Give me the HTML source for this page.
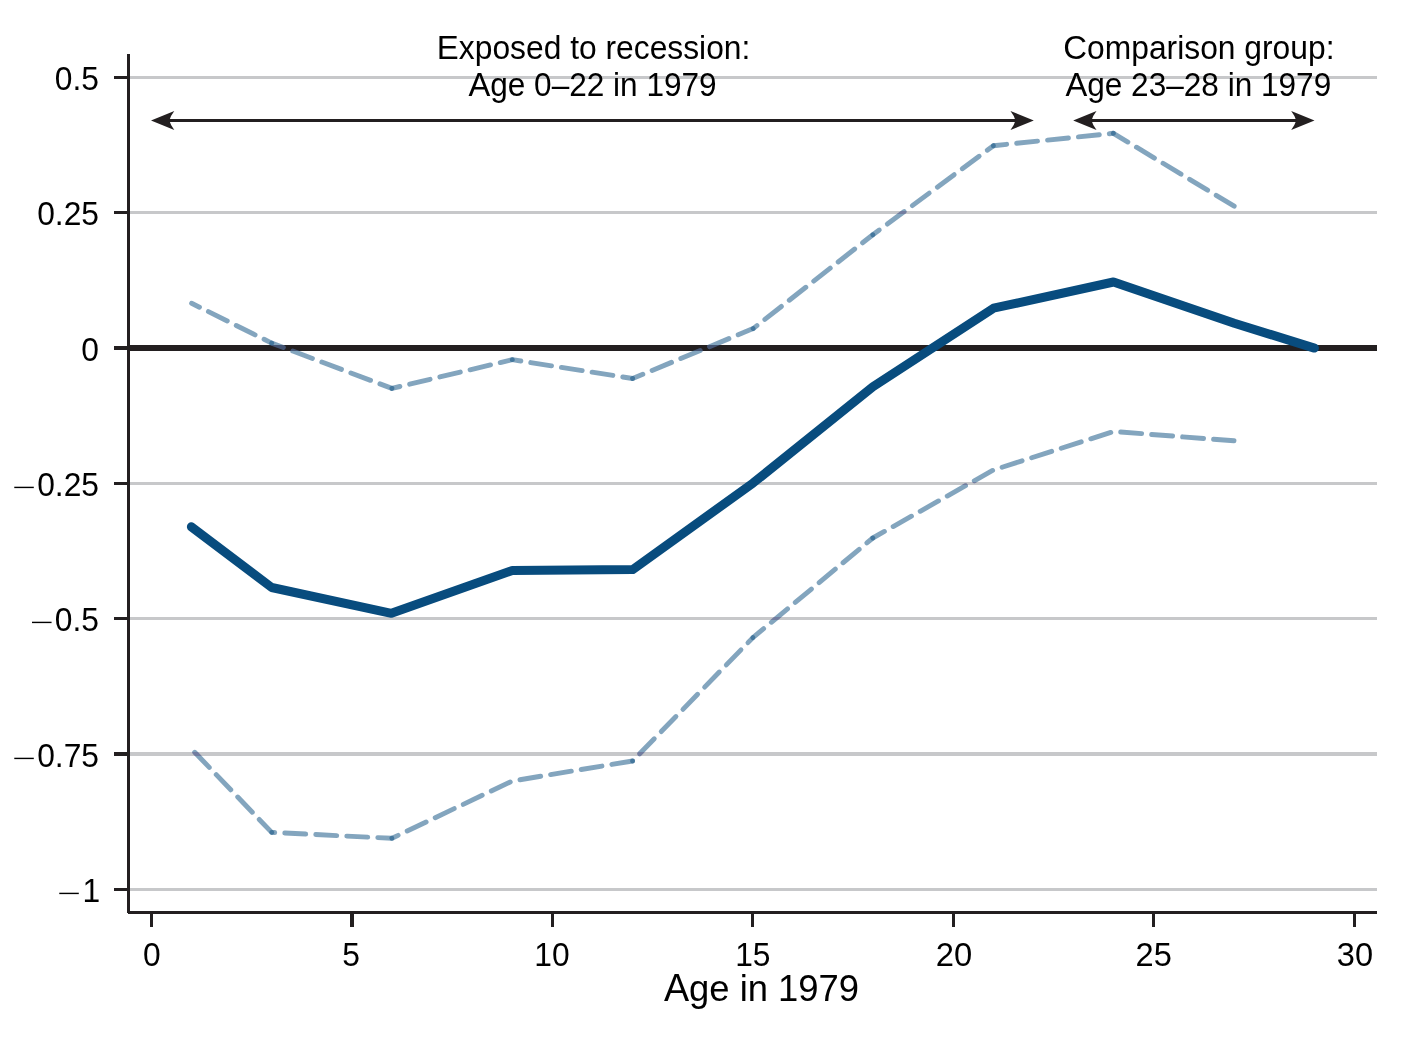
<!DOCTYPE html>
<html lang="en">
<head>
<meta charset="utf-8">
<title>Age in 1979</title>
<style>
html,body{margin:0;padding:0;background:#fff;}
body{width:1424px;height:1040px;overflow:hidden;}
svg{display:block;}
text{font-family:"Liberation Sans",Arial,Helvetica,sans-serif;fill:#000;}
</style>
</head>
<body>
<svg width="1424" height="1040" viewBox="0 0 1424 1040">
<rect width="1424" height="1040" fill="#fff"/>

<g fill="#c7c8ca">
<rect x="130" y="76" width="1247" height="3"/>
<rect x="130" y="211" width="1247" height="3"/>
<rect x="130" y="482" width="1247" height="3"/>
<rect x="130" y="617" width="1247" height="3"/>
<rect x="130" y="752" width="1247" height="4"/>
<rect x="130" y="888" width="1247" height="3"/>
</g>
<g fill="#231f20"><rect x="130" y="345" width="1247" height="6"/></g>
<g fill="none" stroke="#084c7e" stroke-opacity="0.5" stroke-width="4.9" stroke-linecap="round" stroke-dasharray="21.0 10.05">
<line x1="1234.2" y1="206.2" x2="1113.4" y2="133.3" stroke-dashoffset="0.00"/>
<line x1="1113.4" y1="133.3" x2="993.4" y2="145.7" stroke-dashoffset="16.89"/>
<line x1="993.4" y1="145.7" x2="872.8" y2="234.8" stroke-dashoffset="13.33"/>
<line x1="872.8" y1="234.8" x2="753.1" y2="328.6" stroke-dashoffset="8.03"/>
<line x1="753.1" y1="328.6" x2="632.6" y2="378.5" stroke-dashoffset="4.85"/>
<line x1="632.6" y1="378.5" x2="512.3" y2="359.7" stroke-dashoffset="11.07"/>
<line x1="512.3" y1="359.7" x2="391.9" y2="388.4" stroke-dashoffset="8.63"/>
<line x1="391.9" y1="388.4" x2="271.7" y2="343.1" stroke-dashoffset="8.21"/>
<line x1="271.7" y1="343.1" x2="191.6" y2="303.3" stroke-dashoffset="12.46"/>
<line x1="1234.0" y1="440.8" x2="1113.6" y2="431.5" stroke-dashoffset="0.50"/>
<line x1="1113.6" y1="431.5" x2="993.4" y2="470.0" stroke-dashoffset="28.11"/>
<line x1="993.4" y1="470.0" x2="872.8" y2="538.0" stroke-dashoffset="30.12"/>
<line x1="872.8" y1="538.0" x2="752.9" y2="637.6" stroke-dashoffset="13.32"/>
<line x1="752.9" y1="637.6" x2="632.6" y2="761.0" stroke-dashoffset="13.95"/>
<line x1="632.6" y1="761.0" x2="512.3" y2="781.0" stroke-dashoffset="31.03"/>
<line x1="512.3" y1="781.0" x2="391.9" y2="838.3" stroke-dashoffset="28.78"/>
<line x1="391.9" y1="838.3" x2="271.7" y2="832.4" stroke-dashoffset="6.87"/>
<line x1="271.7" y1="832.4" x2="191.6" y2="749.0" stroke-dashoffset="3.02"/>
<line x1="632.5" y1="761.0" x2="632.6" y2="761.0" stroke-dasharray="none"/>
</g>
<clipPath id="zb"><rect x="130" y="345" width="1247" height="6"/></clipPath>
<g clip-path="url(#zb)" fill="none" stroke="#ffceff" stroke-opacity="0.2" stroke-width="4.9" stroke-linecap="round" stroke-dasharray="21.0 10.05">
<line x1="391.9" y1="388.4" x2="271.7" y2="343.1" stroke-dashoffset="8.21"/>
<line x1="753.1" y1="328.6" x2="632.6" y2="378.5" stroke-dashoffset="4.85"/>
</g>
<clipPath id="gb"><rect x="130" y="76" width="1247" height="3"/><rect x="130" y="211" width="1247" height="3"/><rect x="130" y="482" width="1247" height="3"/><rect x="130" y="617" width="1247" height="3"/><rect x="130" y="752" width="1247" height="4"/><rect x="130" y="888" width="1247" height="3"/></clipPath>
<g clip-path="url(#gb)" fill="none" stroke="#a14990" stroke-opacity="0.2" stroke-width="4.9" stroke-linecap="round" stroke-dasharray="21.0 10.05">
<line x1="993.4" y1="145.7" x2="872.8" y2="234.8" stroke-dashoffset="13.33"/>
<line x1="271.7" y1="832.4" x2="191.6" y2="749.0" stroke-dashoffset="3.02"/>
<line x1="752.9" y1="637.6" x2="632.6" y2="761.0" stroke-dashoffset="13.95"/>
<line x1="872.8" y1="538.0" x2="752.9" y2="637.6" stroke-dashoffset="13.32"/>
<line x1="993.4" y1="470.0" x2="872.8" y2="538.0" stroke-dashoffset="30.12"/>
</g>
<polyline points="191.4,526.8 271.7,587.5 391.4,613.3 512.3,570.5 632.7,569.6 753.0,483.1 872.9,386.8 993.5,308.2 1113.5,282.0 1234.3,323.2 1314.4,348.1" fill="none" stroke="#084c7e" stroke-width="9" stroke-linecap="round" stroke-linejoin="round"/>
<g fill="#231f20">
<rect x="127" y="54" width="3" height="859"/>
<rect x="128" y="911" width="1249" height="3"/>
<rect x="114" y="76" width="13" height="3"/>
<rect x="114" y="211" width="13" height="3"/>
<rect x="114" y="346" width="13" height="4"/>
<rect x="114" y="482" width="13" height="3"/>
<rect x="114" y="617" width="13" height="3"/>
<rect x="114" y="752" width="13" height="4"/>
<rect x="114" y="888" width="13" height="3"/>
<rect x="150" y="914" width="3" height="13"/>
<rect x="350" y="914" width="4" height="13"/>
<rect x="551" y="914" width="3" height="13"/>
<rect x="751" y="914" width="3" height="13"/>
<rect x="952" y="914" width="3" height="13"/>
<rect x="1152" y="914" width="3" height="13"/>
<rect x="1353" y="914" width="3" height="13"/>
</g>
<g fill="#231f20">
<rect x="161" y="119" width="863" height="3"/>
<path d="M151.0,120.5 L174.3,111.0 Q170.60,115.75 169.3,120.5 Q170.60,125.25 174.3,130.0 Z"/>
<path d="M1033.8,120.5 L1010.5,111.0 Q1014.20,115.75 1015.5,120.5 Q1014.20,125.25 1010.5,130.0 Z"/>
<rect x="1083" y="119" width="221" height="3"/>
<path d="M1073.2,120.5 L1096.5,111.0 Q1092.80,115.75 1091.5,120.5 Q1092.80,125.25 1096.5,130.0 Z"/>
<path d="M1314.5,120.5 L1291.2,111.0 Q1294.85,115.75 1296.2,120.5 Q1294.85,125.25 1291.2,130.0 Z"/>
</g>
<g><text transform="translate(99.00,90.00) scale(1,1.033)" font-size="31.8" text-anchor="end">0.5</text></g>
<g><text transform="translate(99.00,225.00) scale(1,1.033)" font-size="31.8" text-anchor="end">0.25</text></g>
<g><text transform="translate(99.00,361.00) scale(1,1.033)" font-size="31.8" text-anchor="end">0</text></g>
<g><text font-size="32" transform="translate(12.2,494.10) scale(1.26,0.62)">−</text><text transform="translate(99.00,496.00) scale(1,1.033)" font-size="31.8" text-anchor="end">0.25</text></g>
<g><text font-size="32" transform="translate(30.0,629.10) scale(1.26,0.62)">−</text><text transform="translate(99.00,631.00) scale(1,1.033)" font-size="31.8" text-anchor="end">0.5</text></g>
<g><text font-size="32" transform="translate(12.2,765.10) scale(1.26,0.62)">−</text><text transform="translate(99.00,767.00) scale(1,1.033)" font-size="31.8" text-anchor="end">0.75</text></g>
<g><text font-size="32" transform="translate(57.2,900.10) scale(1.26,0.62)">−</text><text transform="translate(100.20,902.00) scale(1,1.033)" font-size="31.8" text-anchor="end">1</text></g>
<text transform="translate(151.80,966.00) scale(1,1.033)" font-size="31.8" text-anchor="middle">0</text>
<text transform="translate(351.20,966.00) scale(1,1.033)" font-size="31.8" text-anchor="middle">5</text>
<text transform="translate(551.90,966.00) scale(1,1.033)" font-size="31.8" text-anchor="middle">10</text>
<text transform="translate(752.80,966.00) scale(1,1.033)" font-size="31.8" text-anchor="middle">15</text>
<text transform="translate(953.90,966.00) scale(1.03,1.033)" font-size="31.8" text-anchor="middle">20</text>
<text transform="translate(1153.70,966.00) scale(1.025,1.033)" font-size="31.8" text-anchor="middle">25</text>
<text transform="translate(1354.90,966.00) scale(1.025,1.033)" font-size="31.8" text-anchor="middle">30</text>
<text transform="translate(761.50,1001.00) scale(1,1.033)" font-size="36.4" text-anchor="middle"><tspan font-size="37.71">A</tspan>ge in 1979</text>
<text transform="translate(593.60,59.00) scale(1,1.033)" font-size="31.8" text-anchor="middle"><tspan font-size="32.94">E</tspan>xposed to recession:</text>
<text transform="translate(592.50,96.00) scale(0.993,1.033)" font-size="31.8" text-anchor="middle"><tspan font-size="32.94">A</tspan>ge 0–22 in 1979</text>
<text transform="translate(1198.90,59.00) scale(1,1.033)" font-size="31.8" text-anchor="middle"><tspan font-size="32.94">C</tspan>omparison group:</text>
<text transform="translate(1198.30,96.00) scale(0.993,1.033)" font-size="31.8" text-anchor="middle"><tspan font-size="32.94">A</tspan>ge 23–28 in 1979</text>
</svg>
</body>
</html>
